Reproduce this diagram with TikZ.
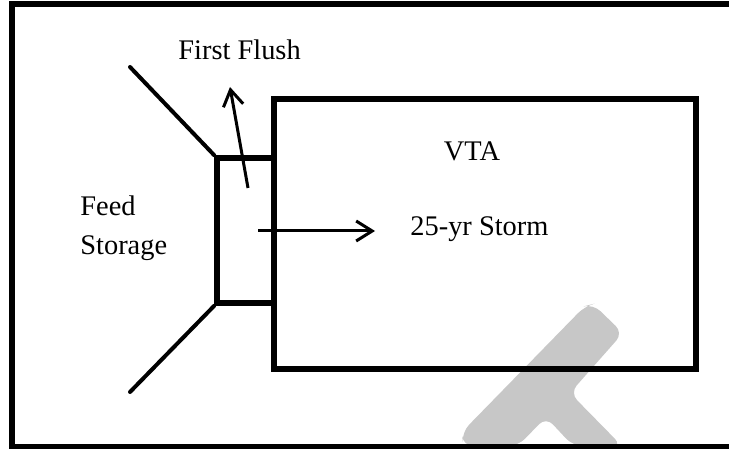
\documentclass[tikz,border=0pt]{standalone}
\usepackage{fontspec}
\setmainfont{Liberation Serif}
\usetikzlibrary{arrows.meta}

\begin{document}
\begin{tikzpicture}[
  x=0.5pt, y=-0.5pt, font=\fontsize{14.2}{19.5}\selectfont,
  >={Straight Barb[length=8pt, width=10pt, line width=1.5pt]},
  frame/.style={draw, line width=3pt},
  box/.style={draw, line width=2.8pt, inner sep=0pt},
  wall/.style={line width=2pt, line cap=round},
  flow/.style={->, line width=1.5pt},
  lab/.style={inner sep=0pt, align=left},
  stamp/.style={fill=black!22, rounded corners=5pt}]
\useasboundingbox (0,0) rectangle (729,449);
\fill[stamp] (463,446) -- (462,432) -- (585,306) -- (593,304) -- (623,333) -- (570,393) -- (622,446) -- (573,446) -- (546,417) -- (518,446) -- cycle;
\draw[frame] (760,4) -- (12,4) -- (12,447) -- (760,447);
\node[box, minimum width=211pt, minimum height=135pt] (vta) at (485,234) {};
\node[box, minimum width=28.5pt, minimum height=72.5pt] (feed) at (245.5,230.5) {};
\coordinate (upper) at (130,67);
\coordinate (lower) at (130,392);
\draw[wall] (upper) -- (feed.north west);
\draw[wall] (lower) -- (feed.south west);
\node[lab, anchor=base west] (flush) at (178,60) {First Flush};
\node[lab, anchor=west] (store) at (80,228) {Feed\\Storage};
\node[lab, anchor=base] (vtalab) at (472,161) {VTA};
\node[lab, anchor=base west] (storm) at (410,235) {25-yr Storm};
\coordinate (ffin) at (248,188);
\coordinate (ffout) at (230,87);
\coordinate (stin) at (258,231);
\draw[flow] (ffin) -- (ffout);
\draw[flow] (stin) -- ([shift={(-17.5pt,2pt)}]storm.base west);
\end{tikzpicture}
\end{document}
